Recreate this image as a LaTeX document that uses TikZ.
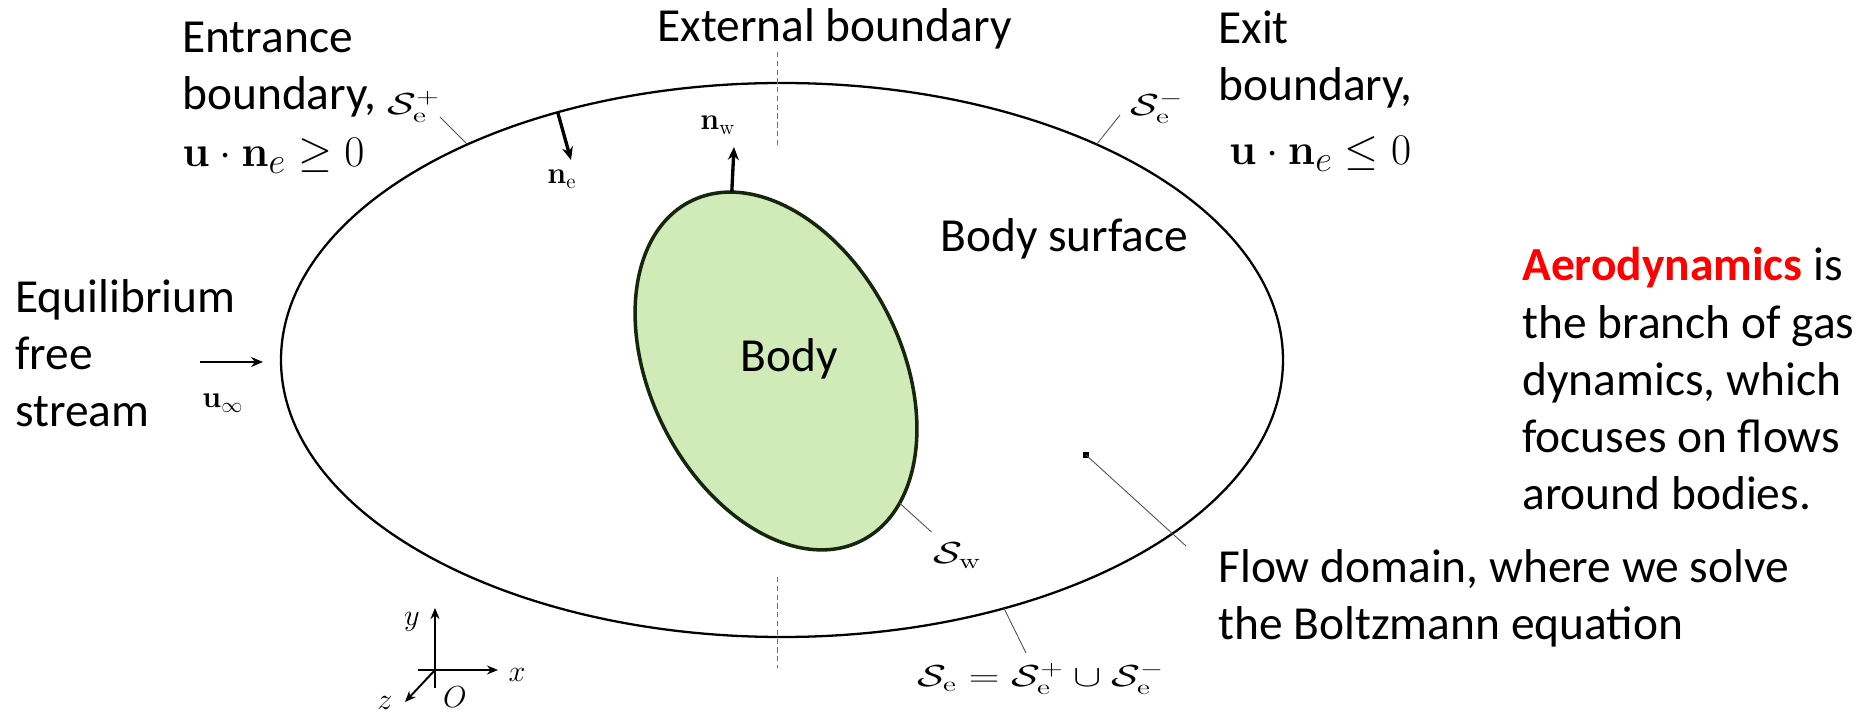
\documentclass[tikz,border=0pt]{standalone}
\usepackage{amsmath}
\usepackage{amssymb}
\usepackage[no-math]{fontspec}
\setmainfont{Carlito}
\usepackage{xcolor}
\usetikzlibrary{arrows.meta}
\definecolor{ink}{RGB}{0,0,0}
\definecolor{leadgray}{RGB}{80,80,80}
\definecolor{cutgray}{RGB}{110,110,110}
\definecolor{bodyfill}{RGB}{208,234,184}
\definecolor{bodyline}{RGB}{22,38,14}
\definecolor{aerored}{RGB}{255,0,0}
\newcommand{\Slbl}[1]{\scalebox{1.4}[1]{$#1$}}
\newcommand{\bigmath}[1]{{\fontsize{31}{32.6}\selectfont$#1$}}

\begin{document}
\begin{tikzpicture}[
    font=\fontsize{27}{32.6}\selectfont,
    txt/.style={anchor=base west,align=left,inner sep=0pt,text=ink},
    lbl/.style={anchor=base west,inner sep=0pt,text=ink,
      font=\fontsize{17}{20}\selectfont},
    axlbl/.style={inner sep=0pt,text=ink,font=\fontsize{19}{22}\selectfont},
    outline/.style={draw=ink,line width=1.3pt},
    bodyshape/.style={draw=bodyline,line width=2pt,fill=bodyfill},
    normalarrow/.style={-{Stealth[length=2.6mm,width=2.2mm]},line width=1.9pt,
      draw=ink},
    streamarrow/.style={-{Stealth[length=2.4mm,width=2mm]},line width=1.5pt,
      draw=ink},
    axisarrow/.style={-{Stealth[length=2.2mm,width=1.8mm]},line width=1.1pt,
      draw=ink},
    leader/.style={draw=leadgray,line width=0.5pt},
    cutline/.style={draw=cutgray,line width=0.5pt,dash pattern=on 3pt off 2pt},
  ]

  \useasboundingbox (0,0) rectangle (37.46,14.2);

  \def\rx{10.02}
  \def\ry{5.54}
  \def\bx{2.51}
  \def\by{3.80}

  % external boundary
  \coordinate (ctr) at (15.64,7.00);
  \draw[outline] (ctr) ellipse [x radius=\rx,y radius=\ry];
  \path (ctr) ++(128.9:\rx cm and \ry cm) coordinate (ePlus);
  \path (ctr) ++(51.1:\rx cm and \ry cm) coordinate (eMinus);
  \path (ctr) ++(-63.7:\rx cm and \ry cm) coordinate (eAll);
  \path (ctr) ++(116.6:\rx cm and \ry cm) coordinate (neBase);

  \coordinate (cutA) at (15.54,13.16);
  \coordinate (cutB) at (15.54,11.30);
  \coordinate (cutC) at (15.54,2.66);
  \coordinate (cutD) at (15.54,0.84);
  \draw[cutline] (cutA) -- (cutB);
  \draw[cutline] (cutC) -- (cutD);

  % body
  \coordinate (bc) at (15.52,6.78);
  \begin{scope}[shift={(bc)},rotate=26.7]
    \draw[bodyshape] (0,0) ellipse [x radius=\bx,y radius=\by];
    \coordinate (wTop) at (71:\bx cm and \by cm);
    \coordinate (wLow) at (-66:\bx cm and \by cm);
  \end{scope}
  \node[txt] (bodytxt) at (14.80,6.76) {Body};

  % normals and free stream
  \coordinate (nwTip) at (14.68,11.26);
  \draw[normalarrow] (wTop) -- (nwTip);
  \node[lbl] (nw) at (14.00,11.60) {$\mathbf{n}_\mathrm{w}$};

  \coordinate (neTip) at (11.42,11.00);
  \draw[normalarrow] (neBase) -- (neTip);
  \node[lbl] (ne) at (10.94,10.52) {$\mathbf{n}_\mathrm{e}$};

  \coordinate (uTail) at (4.00,6.96);
  \coordinate (uHead) at (5.26,6.96);
  \draw[streamarrow] (uTail) -- (uHead);
  \node[lbl] (uinf) at (4.04,6.04) {$\mathbf{u}_\infty$};

  % surface labels with leaders
  \node[lbl] (sPlus) at (7.74,11.90) {\Slbl{\mathcal{S}_\mathrm{e}^+}};
  \coordinate (sPlusEnd) at (8.80,11.86);
  \draw[leader] (sPlusEnd) -- (ePlus);

  \node[lbl] (sMinus) at (22.60,11.88) {\Slbl{\mathcal{S}_\mathrm{e}^-}};
  \coordinate (sMinusEnd) at (22.40,11.90);
  \draw[leader] (sMinusEnd) -- (eMinus);

  \node[lbl] (sW) at (18.66,2.92) {\Slbl{\mathcal{S}_\mathrm{w}}};
  \coordinate (sWEnd) at (18.63,3.56);
  \draw[leader] (wLow) -- (sWEnd);

  \node[lbl] (sAll) at (18.34,0.46)
    {\Slbl{\mathcal{S}_\mathrm{e}=\mathcal{S}_\mathrm{e}^+\cup\mathcal{S}_\mathrm{e}^-}};
  \coordinate (sAllEnd) at (20.52,1.14);
  \draw[leader] (eAll) -- (sAllEnd);

  \node[fill=ink,minimum size=1.2mm,inner sep=0pt] (flowpt) at (21.72,5.10) {};
  \coordinate (flowEnd) at (23.72,3.28);
  \draw[leader] (flowpt.center) -- (flowEnd);

  % coordinate frame
  \coordinate (orig) at (8.70,0.80);
  \coordinate (yLow) at (8.70,0.44);
  \coordinate (yTip) at (8.70,2.04);
  \coordinate (xLow) at (8.36,0.80);
  \coordinate (xTip) at (9.96,0.80);
  \coordinate (zTip) at (8.10,0.16);
  \draw[axisarrow] (yLow) -- (yTip);
  \draw[axisarrow] (xLow) -- (xTip);
  \draw[axisarrow] (orig) -- (zTip);
  \node[axlbl] (ylbl) at (8.24,1.76) {$y$};
  \node[axlbl] (xlbl) at (10.34,0.70) {$x$};
  \node[axlbl] (olbl) at (9.10,0.26) {$O$};
  \node[axlbl] (zlbl) at (7.70,0.14) {$z$};

  % text (base anchor sits on the last line)
  \node[txt] (entrance) at (3.64,10.86)
    {Entrance\\boundary,\\\bigmath{\mathbf{u}\cdot\mathbf{n}_e\geq 0}};
  \node[txt] (external) at (13.14,13.36) {External boundary};
  \node[txt] (exit) at (24.36,10.90)
    {Exit\\boundary,\\[4pt]\ \bigmath{\mathbf{u}\cdot\mathbf{n}_e\leq 0}};
  \node[txt] (stream) at (0.30,5.66) {Equilibrium\\free\\stream};
  \node[txt] (surface) at (18.80,9.16) {Body surface};
  \node[txt] (domain) at (24.36,1.40)
    {Flow domain, where we solve\\the Boltzmann equation};
  \node[txt] (aero) at (30.44,4.00)
    {\textcolor{aerored}{\textbf{Aerodynamics}} is\\the branch of gas\\
     dynamics, which\\focuses on flows\\around bodies.};

\end{tikzpicture}
\end{document}
